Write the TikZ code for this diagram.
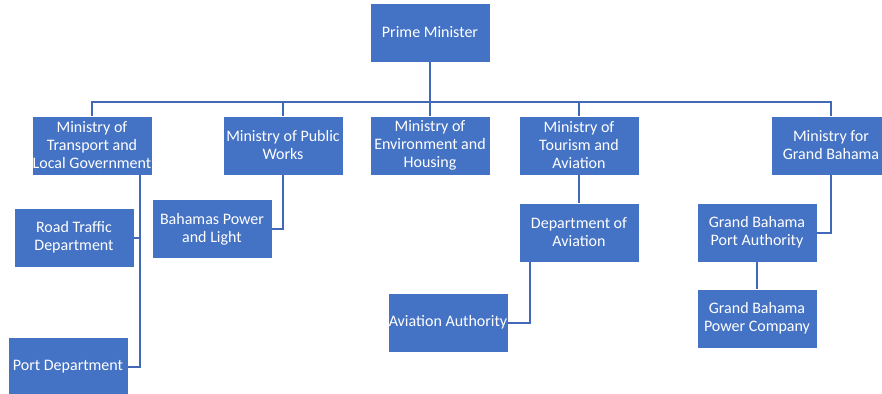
\documentclass[tikz,border=0pt]{standalone}
\usepackage{fontspec}
\setmainfont{Carlito}
\begin{document}
\begin{tikzpicture}[x=1pt,y=-1pt,
  unit/.style={rectangle, fill=boxblue, draw=white, line width=0.8pt,
    minimum width=120pt, minimum height=59pt, inner sep=0pt,
    align=center, text=white, font=\fontsize{16}{18}\selectfont},
  link/.style={draw=lineblue, line width=2pt}]
\definecolor{boxblue}{HTML}{4472C4}
\definecolor{lineblue}{HTML}{4169B8}
\useasboundingbox (0,0) rectangle (882,393);
\clip (0,0) rectangle (882,393);
\fill[white] (0,0) rectangle (882,393);

% reference coordinates for the bus and the side spines
\coordinate (bus) at (0,102);
\coordinate (tsp) at (140,0);
\coordinate (avx) at (530,0);

% units
\node[unit] (pm) at (430,32.5) {Prime Minister};
\node[unit] (trans) at (92,145.5) {Ministry of\\Transport and\\Local Government};
\node[unit] (works) at (283,145.5) {Ministry of Public\\Works};
\node[unit] (env) at (430,145.5) {Ministry of\\Environment and\\Housing};
\node[unit] (tour) at (579,145.5) {Ministry of\\Tourism and\\Aviation};
\node[unit] (gb) at (831,145.5) {Ministry for\\Grand Bahama};
\node[unit] (road) at (74,237.5) {Road Traffic\\Department};
\node[unit] (port) at (68,366.5) {Port Department};
\node[unit] (bpl) at (212,229) {Bahamas Power\\and Light};
\node[unit] (deptav) at (579,232.5) {Department of\\Aviation};
\node[unit] (avauth) at (448,322.5) {Aviation Authority};
\node[unit] (gbpa) at (757,232.5) {Grand Bahama\\Port Authority};
\node[unit] (gbpc) at (757,318.5) {Grand Bahama\\Power Company};

% top level bus
\path[link] (pm.south) -- (env.north);
\path[link] (trans.north) -- (trans.north |- bus) -- (gb.north |- bus) -- (gb.north);
\path[link] (works.north) -- (works.north |- bus);
\path[link] (tour.north) -- (tour.north |- bus);

% ministry branches
\path[link] (trans.south -| tsp) |- (port.east);
\path[link] (road.east) -- (road.east -| tsp);
\path[link] (works.south) |- (bpl.east);
\path[link] (tour.south) -- (deptav.north);
\path[link] (deptav.south -| avx) |- (avauth.east);
\path[link] (gb.south) |- (gbpa.east);
\path[link] (gbpa.south) -- (gbpc.north);
\end{tikzpicture}
\end{document}
